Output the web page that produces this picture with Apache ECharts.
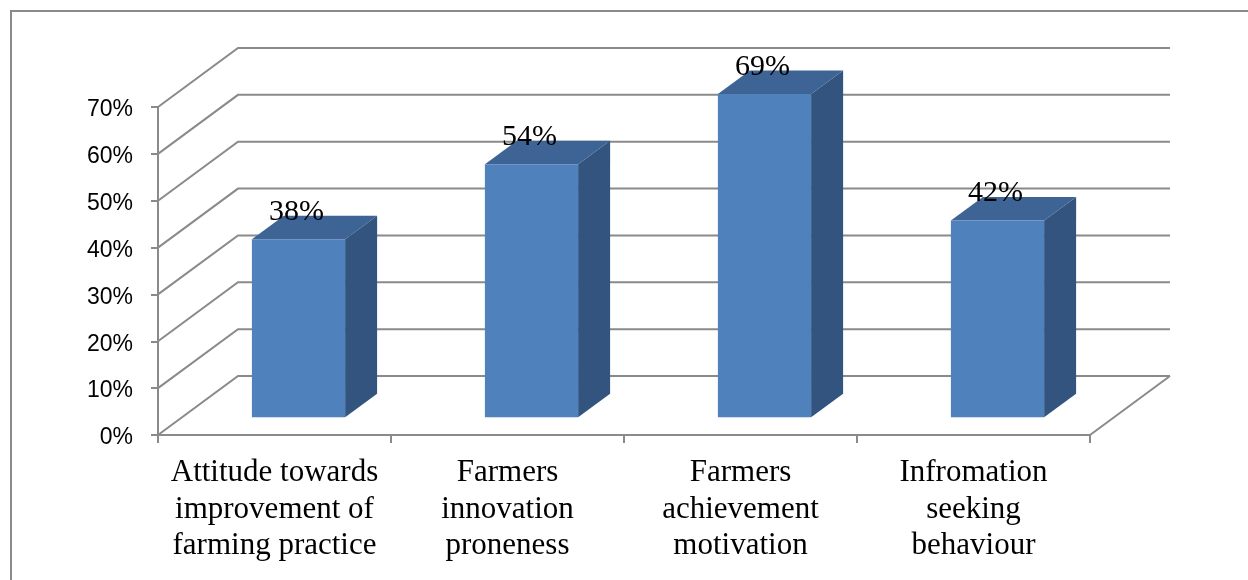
<!DOCTYPE html>
<html>
<head>
<meta charset="utf-8">
<script src="https://cdn.jsdelivr.net/npm/echarts@6/dist/echarts.min.js"></script>
<style>
html,body{margin:0;padding:0;background:#fff;}
#chart{width:1248px;height:580px;}
</style>
</head>
<body>
<div id="chart"></div>
<script>
// ---- data ----
const categories = [
  "Attitude towards\nimprovement of\nfarming practice",
  "Farmers\ninnovation\nproneness",
  "Farmers\nachievement\nmotivation",
  "Infromation\nseeking\nbehaviour"
];
const values = [38, 54, 69, 42];
const yTicks = [0, 10, 20, 30, 40, 50, 60, 70];

// ---- 3D projection style constants ----
const DEPTH_X = 80, DEPTH_Y = -59;     // wall depth offset
const BAR_FRONT = 0.3, BAR_BACK = 0.7; // bar position inside depth
const BAR_W = 0.4;                      // bar width as fraction of band
const GRID_COLOR = '#8a8a8a';

const chart = echarts.init(document.getElementById('chart'), null, {renderer: 'canvas'});

function wallItem(params, api) {
  const v = api.value(1);
  const bw = api.size([1, 0])[0];
  const pL = api.coord([0, v]);
  const pR = api.coord([categories.length - 1, v]);
  const left = pL[0] - bw / 2, right = pR[0] + bw / 2, y = pL[1];
  const children = [{
    type: 'polyline',
    shape: {points: [[left, y], [left + DEPTH_X, y + DEPTH_Y], [right + DEPTH_X, y + DEPTH_Y]]},
    style: {stroke: GRID_COLOR, lineWidth: 2, fill: null}
  }];
  if (v === 0) {
    children.push({
      type: 'line',
      shape: {x1: right, y1: y, x2: right + DEPTH_X, y2: y + DEPTH_Y},
      style: {stroke: GRID_COLOR, lineWidth: 2}
    });
  }
  return {type: 'group', children: children};
}

function barItem(params, api) {
  const i = api.value(0), v = api.value(1);
  const bw = api.size([1, 0])[0];
  const base = api.coord([i, 0]);
  const top = api.coord([i, v]);
  const w = BAR_W * bw;
  const x0 = base[0] + BAR_FRONT * DEPTH_X - w / 2, x1 = x0 + w;
  const yb = base[1] + BAR_FRONT * DEPTH_Y, yt = top[1] + BAR_FRONT * DEPTH_Y;
  const dx = (BAR_BACK - BAR_FRONT) * DEPTH_X, dy = (BAR_BACK - BAR_FRONT) * DEPTH_Y;
  return {
    type: 'group',
    children: [
      {type: 'polygon', shape: {points: [[x1, yt], [x1 + dx, yt + dy], [x1 + dx, yb + dy], [x1, yb]]},
       style: {fill: '#32547e'}},
      {type: 'polygon', shape: {points: [[x0, yt], [x0 + dx, yt + dy], [x1 + dx, yt + dy], [x1, yt]]},
       style: {fill: '#3d6494'}},
      {type: 'rect', shape: {x: x0, y: yt, width: w, height: yb - yt},
       style: {fill: '#4f81bd'}},
      {type: 'text', x: (x0 + x1) / 2 - 2, y: yt + dy - 3.5, z2: 10,
       style: {text: v + '%', fontFamily: 'Liberation Serif', fontSize: 30, fill: '#000',
               align: 'center', verticalAlign: 'middle'}}
    ]
  };
}

const option = {
  backgroundColor: '#fff',
  animation: false,
  graphic: [{
    type: 'rect', shape: {x: 11, y: 11, width: 1400, height: 800},
    style: {fill: null, stroke: '#8a8a8a', lineWidth: 2}, z: 0
  }],
  grid: {left: 158, right: 158, top: 107, bottom: 145, containLabel: false},
  xAxis: {
    type: 'category',
    data: categories,
    boundaryGap: true,
    axisLine: {show: true, lineStyle: {color: GRID_COLOR, width: 2}},
    axisTick: {show: true, length: 8, lineStyle: {color: GRID_COLOR, width: 2}},
    axisLabel: {
      interval: 0, margin: 20, color: '#000',
      fontFamily: 'Liberation Serif', fontSize: 31, lineHeight: 36.5, align: 'center'
    },
    splitLine: {show: false}
  },
  yAxis: {
    type: 'value',
    min: 0, max: 70, interval: 10,
    axisLine: {show: true, lineStyle: {color: GRID_COLOR, width: 2}},
    axisTick: {show: true, length: 7, lineStyle: {color: GRID_COLOR, width: 2}},
    axisLabel: {
      formatter: function (v) { return '{a|' + v + '%}'; },
      margin: 25, color: '#000',
      rich: {a: {fontFamily: 'Liberation Sans', fontSize: 23, color: '#000', padding: [6, 0, 0, 0]}}
    },
    splitLine: {show: false}
  },
  series: [
    {
      type: 'custom', name: 'walls', z: 1, clip: false,
      renderItem: wallItem,
      data: yTicks.map(v => [0, v]),
      silent: true
    },
    {
      type: 'custom', name: 'bars', z: 5, clip: false,
      renderItem: barItem,
      data: values.map((v, i) => [i, v])
    }
  ]
};
chart.setOption(option);
</script>
</body>
</html>
